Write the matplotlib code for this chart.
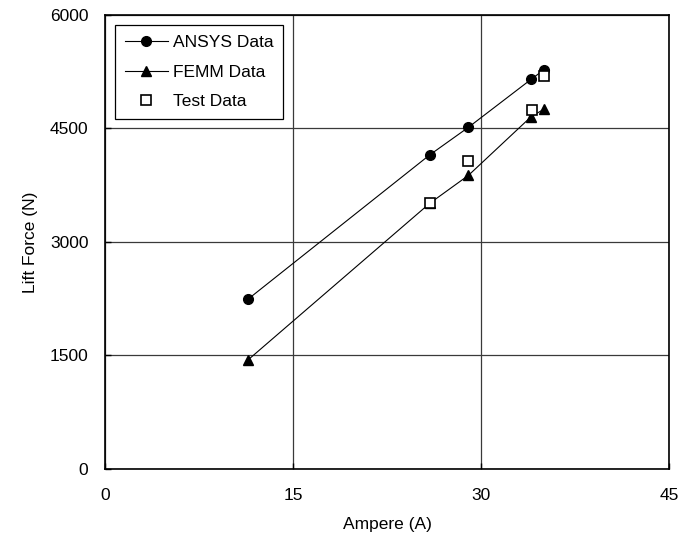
import matplotlib
matplotlib.use("Agg")
import matplotlib.pyplot as plt

plt.rcParams['font.family'] = ['Liberation Sans', 'DejaVu Sans']
plt.rcParams['font.size'] = 12.5

# values
ansys_x = [11.4, 25.9, 29.0, 34.0, 35.0]
ansys_y = [2243, 4150, 4516, 5150, 5273]
femm_x = [11.4, 25.9, 29.0, 34.0, 35.0]
femm_y = [1440, 3510, 3881, 4656, 4753]
test_x = [25.9, 29.0, 34.05, 35.0]
test_y = [3519, 4070, 4744, 5194]

x_ticks = [0, 15, 30, 45]
y_ticks = [0, 1500, 3000, 4500, 6000]

fig = plt.figure(figsize=(6.96, 5.47), dpi=100)
ax = fig.add_axes([0.1509, 0.1426, 0.8103, 0.8300])

ax.plot(ansys_x, ansys_y, color='black', lw=0.8, marker='o', ms=7,
        label='ANSYS Data', zorder=3)
ax.plot(femm_x, femm_y, color='black', lw=0.8, marker='^', ms=7.5,
        label='FEMM Data', zorder=3)
ax.plot(test_x, test_y, ls='none', marker='s', ms=7, mfc='white',
        mec='black', mew=1.2, label='Test Data', zorder=4)

ax.set_xlim(0, 45)
ax.set_ylim(0, 6000)
ax.set_xticks(x_ticks)
ax.set_yticks(y_ticks)
ax.grid(True, color='#3a3a3a', lw=0.9)
ax.set_axisbelow(True)
ax.tick_params(direction='in', length=4, width=1, colors='black')
ax.tick_params(axis='x', pad=14)
ax.tick_params(axis='y', pad=12)
for s in ax.spines.values():
    s.set_linewidth(1.2)
    s.set_color('black')

ax.set_xlabel('Ampere (A)', labelpad=10)
ax.set_ylabel('Lift Force (N)', labelpad=8)

leg = ax.legend(loc='upper left', bbox_to_anchor=(0.0177, 0.978),
                borderaxespad=0, fancybox=False, framealpha=1,
                edgecolor='black', handlelength=2.5, handletextpad=0.3,
                labelspacing=0.85, borderpad=0.55)
leg.get_frame().set_linewidth(0.9)

fig.savefig('out.png', dpi=100)
